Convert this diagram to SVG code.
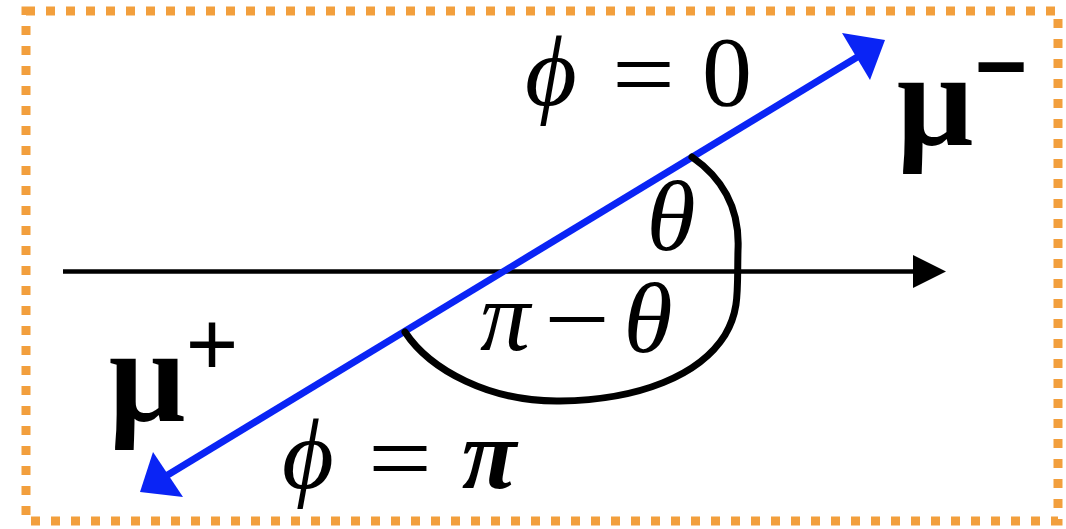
<svg xmlns="http://www.w3.org/2000/svg" width="1066" height="529" viewBox="0 0 1066 529">
<style>
.m{font-family:"Liberation Serif","DejaVu Serif",serif;font-size:100px;fill:#000;text-anchor:middle}
.i{font-style:italic}
.mu{font-family:"Liberation Serif","DejaVu Serif",serif;font-size:135px;font-weight:bold;fill:#000;text-anchor:middle}
.sup{font-family:"Liberation Sans","DejaVu Sans",sans-serif;font-size:90px;fill:#000;text-anchor:middle}
.blue{stroke:#0a24f5;stroke-width:7;fill:none}
.ah{fill:#0a24f5}
</style>
<rect x="0" y="0" width="1066" height="529" fill="#fff"/>
<g id="frame">
<rect x="26" y="11" width="1032" height="510" fill="none" stroke="#f29f3d" stroke-width="9" stroke-dasharray="9 11"/>
</g>
<g id="connectors">
<g id="axis">
<line x1="63" y1="271.5" x2="916" y2="271.5" stroke="#000" stroke-width="4.5"/>
<polygon points="946,271.5 913,255 913,288" fill="#000"/>
</g>
<g id="muon-line">
<line x1="166" y1="476" x2="859" y2="56" class="blue"/>
<polygon class="ah" points="885,40 842,33 870,80"/>
<polygon class="ah" points="140,492 153,452 183,497"/>
</g>
<g id="angle-arc">
<path d="M692,157 C725,180 740,210 738,250 C737,290 740,310 725,335 C700,375 640,400 560,401 C490,402 430,370 405,332" fill="none" stroke="#000" stroke-width="7" stroke-linecap="round"/>
</g>
</g>
<g id="label-phi0">
<text class="m i" x="551" y="105">ϕ</text>
<text class="m" x="643.5" y="108" textLength="63" lengthAdjust="spacingAndGlyphs" font-size="115">=</text>
<text class="m" x="727" y="105">0</text>
</g>
<g id="label-theta">
<text class="m i" x="671" y="250">θ</text>
</g>
<g id="label-pi-theta">
<text class="m i" x="505" y="350">π</text>
<text class="m" x="577" y="353" textLength="66" lengthAdjust="spacingAndGlyphs">−</text>
<text class="m i" x="648" y="352">θ</text>
</g>
<g id="label-phipi">
<text class="m i" x="308" y="488">ϕ</text>
<text class="m" x="400" y="492" textLength="64" lengthAdjust="spacingAndGlyphs" font-size="115">=</text>
<text class="m i" x="489" y="488" font-weight="bold">π</text>
</g>
<g id="mu-minus">
<text class="mu" x="935" y="145">μ</text>
<text class="sup" x="1001" y="97" font-weight="bold">−</text>
</g>
<g id="mu-plus">
<text class="mu" x="147" y="421">μ</text>
<text class="sup" x="212" y="375">+</text>
</g>
</svg>
